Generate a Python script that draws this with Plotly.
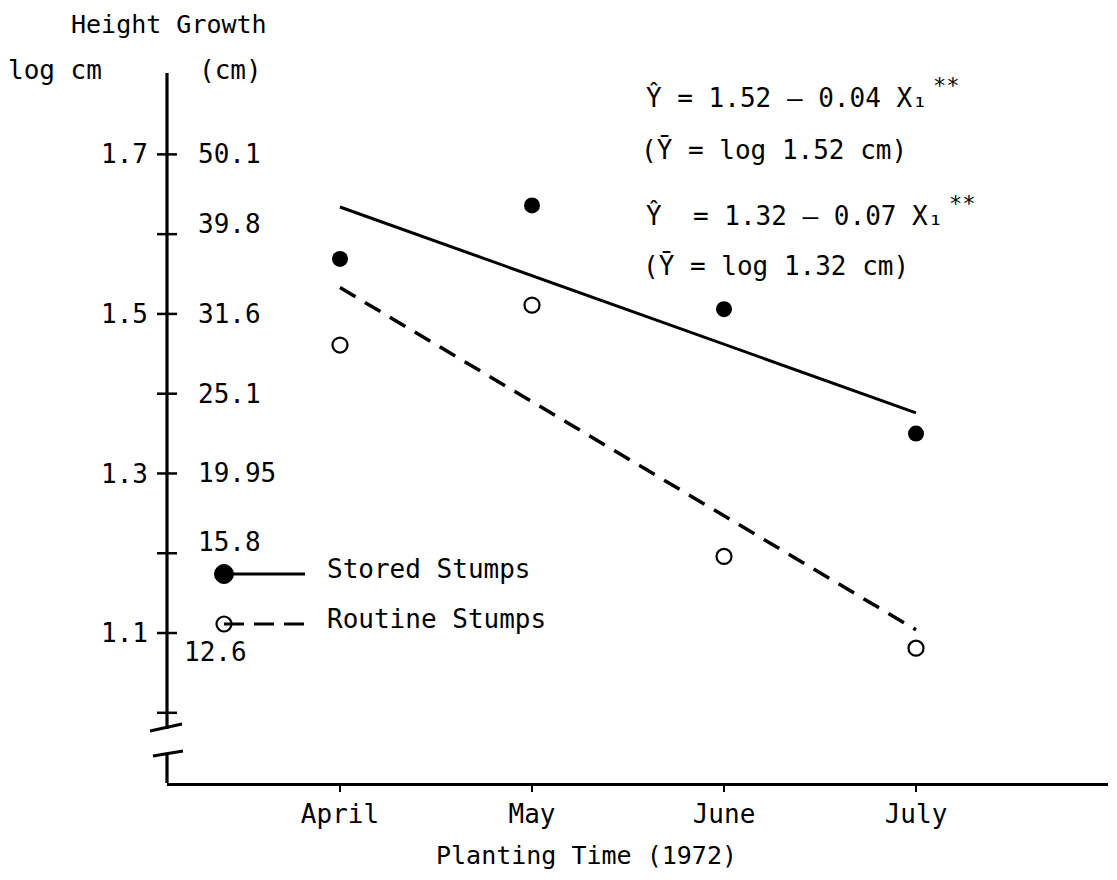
import plotly.graph_objects as go

# ---------------- data ----------------
months = ["April", "May", "June", "July"]
month_x = [0, 1, 2, 3]
stored = [1.569, 1.636, 1.506, 1.350]      # log cm, filled circles
routine = [1.461, 1.511, 1.196, 1.081]     # log cm, open circles
fit_x = [0, 3]
stored_fit = [1.634, 1.376]                # solid regression line
routine_fit = [1.533, 1.104]               # dashed regression line

log_ticks = [1.0, 1.1, 1.2, 1.3, 1.4, 1.5, 1.6, 1.7]
left_tick_vals = [1.1, 1.3, 1.5, 1.7]
left_tick_text = ["1.1", "1.3", "1.5", "1.7"]
cm_tick_vals = [1.7, 1.6, 1.5, 1.4, 1.3, 1.2, 1.1]
cm_tick_text = ["50.1", "39.8", "31.6", "25.1", "19.95", "15.8", "12.6"]
cm_label_shift = [(0, 0), (0, 10), (0, 0), (0, 0), (0, 0), (0, 11), (-14, -19)]

eq_lines = [
    "Ŷ = 1.52 – 0.04 X₁",
    "(Ȳ = log 1.52 cm)",
    "Ŷ\u00a0 = 1.32 – 0.07 X₁",
    "(Ȳ = log 1.32 cm)",
]

# ---------------- layout geometry ----------------
OFF = 8                       # page body margin
W, H = 1101, 864
L, R, T, B = 159, 1, 65, 89
PW, PH = W - L - R, H - T - B
FONT = "DejaVu Sans Mono"
FS = 26


def px(x):
    """screen x (reference pixels) -> paper"""
    return (x - OFF - L) / PW


def py(y):
    """screen y (reference pixels) -> paper"""
    return (H - B - (y - OFF)) / PH


fig = go.Figure()

fig.add_trace(go.Scatter(x=fit_x, y=stored_fit, mode="lines",
                         line=dict(color="black", width=3), showlegend=False))
fig.add_trace(go.Scatter(x=fit_x, y=routine_fit, mode="lines",
                         line=dict(color="black", width=3.5, dash="18px,11px"),
                         showlegend=False))
fig.add_trace(go.Scatter(x=month_x, y=stored, mode="markers",
                         marker=dict(symbol="circle", size=16, color="black"),
                         name="Stored Stumps", showlegend=False))
fig.add_trace(go.Scatter(x=month_x, y=routine, mode="markers",
                         marker=dict(symbol="circle-open", size=15, color="black",
                                     line=dict(width=2.2)),
                         name="Routine Stumps", showlegend=False))

shapes = []
# crossing tick marks on the log axis
for v in log_ticks:
    shapes.append(dict(type="line", xref="paper", xsizemode="pixel", xanchor=0,
                       x0=-10, x1=10, yref="y", y0=v, y1=v,
                       line=dict(color="black", width=2.5)))
# broken vertical axis
shapes.append(dict(type="line", xref="paper", yref="paper", x0=0, x1=0,
                   y0=py(729), y1=1, line=dict(color="black", width=3.2)))
shapes.append(dict(type="line", xref="paper", yref="paper", x0=0, x1=0,
                   y0=0, y1=py(753), line=dict(color="black", width=3.2)))
shapes.append(dict(type="line", xref="paper", yref="paper",
                   x0=px(150), y0=py(731), x1=px(182), y1=py(724),
                   line=dict(color="black", width=3)))
shapes.append(dict(type="line", xref="paper", yref="paper",
                   x0=px(153), y0=py(756), x1=px(183), y1=py(751),
                   line=dict(color="black", width=3)))
# legend samples
shapes.append(dict(type="line", xref="paper", yref="paper",
                   x0=px(224), y0=py(574), x1=px(305), y1=py(574),
                   line=dict(color="black", width=3)))
shapes.append(dict(type="circle", xref="paper", yref="paper",
                   x0=px(214.5), y0=py(564.5), x1=px(233.5), y1=py(583.5),
                   fillcolor="black", line=dict(color="black", width=1)))
shapes.append(dict(type="line", xref="paper", yref="paper",
                   x0=px(224), y0=py(624), x1=px(304), y1=py(624),
                   line=dict(color="black", width=3, dash="20px,10px")))
shapes.append(dict(type="circle", xref="paper", yref="paper",
                   x0=px(216.5), y0=py(616.5), x1=px(231.5), y1=py(631.5),
                   fillcolor="rgba(0,0,0,0)", line=dict(color="black", width=2.2)))

annotations = []


def text(t, x, y, xanchor="left", yanchor="middle", size=FS):
    annotations.append(dict(text=t, xref="paper", yref="paper", x=px(x), y=py(y),
                            xanchor=xanchor, yanchor=yanchor, showarrow=False,
                            borderpad=0,
                            font=dict(family=FONT, size=size, color="black")))


text("Height Growth", 70, 24, size=25)
text("log cm", 7, 70)
text("(cm)", 198, 70)

for v, t, (dx, dy) in zip(cm_tick_vals, cm_tick_text, cm_label_shift):
    annotations.append(dict(text=t, xref="paper", yref="y", x=0, y=v,
                            xanchor="left", yanchor="middle", xshift=29 + dx,
                            yshift=dy, showarrow=False,
                            font=dict(family=FONT, size=FS, color="black")))

text("Stored Stumps", 326, 569)
text("Routine Stumps", 326, 619)

for t, (x, y) in zip(eq_lines, [(645, 98), (640, 150), (645, 216), (642, 266)]):
    text(t, x, y)
text("**", 932, 86, size=22)
text("**", 948, 204, size=22)

text("Planting Time (1972)", 586, 855, xanchor="center", size=25)

fig.update_layout(
    width=W, height=H,
    margin=dict(l=L, r=R, t=T, b=B, pad=0),
    paper_bgcolor="white", plot_bgcolor="white",
    shapes=shapes, annotations=annotations,
    font=dict(family=FONT, size=FS, color="black"),
    xaxis=dict(range=[-0.901, 4.0], tickvals=month_x, ticktext=months,
               showline=True, linewidth=3, linecolor="black",
               ticks="outside", ticklen=6, tickwidth=2, tickcolor="black",
               ticklabelstandoff=0,
               showgrid=False, zeroline=False,
               tickfont=dict(family=FONT, size=FS, color="black")),
    yaxis=dict(range=[0.912, 1.802], tickvals=left_tick_vals, ticktext=left_tick_text,
               showline=False, ticks="", ticklabelstandoff=18,
               showgrid=False, zeroline=False,
               tickfont=dict(family=FONT, size=FS, color="black")),
)

fig.write_html("out.html")
